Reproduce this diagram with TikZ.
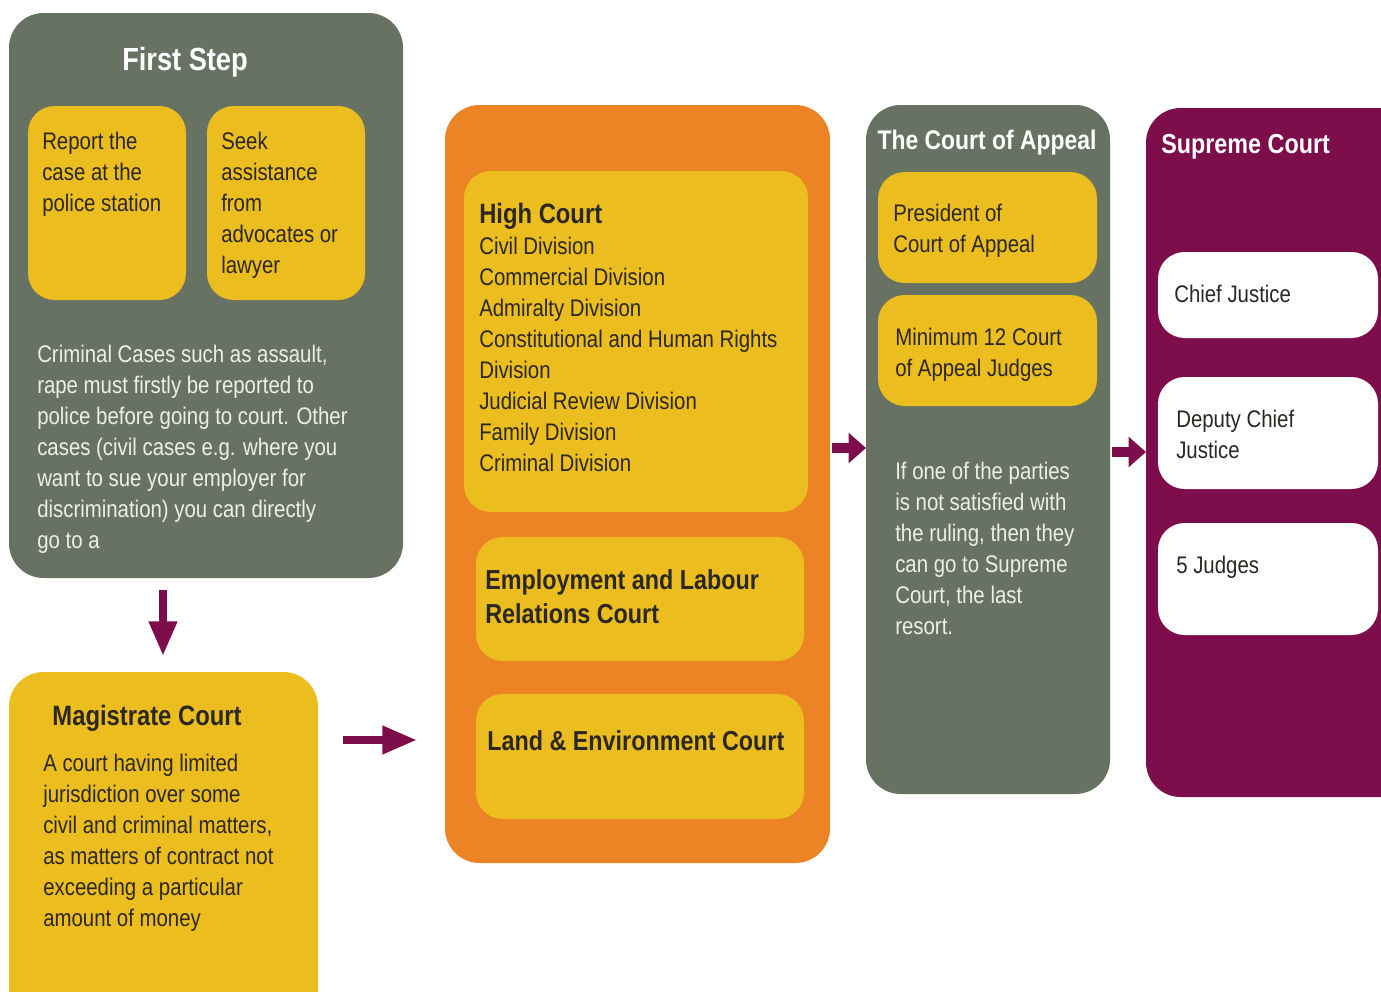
\documentclass[tikz,border=0pt]{standalone}
\usepackage{fontspec}
\setmainfont{Liberation Sans}[FakeStretch=0.85]
\usetikzlibrary{fit,arrows.meta}
\definecolor{cgray}{HTML}{677263}
\definecolor{cyellow}{HTML}{EBBD1E}
\definecolor{corange}{HTML}{EC8324}
\definecolor{cpurple}{HTML}{7D0E4B}
\definecolor{cdark}{HTML}{2B2823}
\definecolor{clight}{HTML}{EEEEE8}
\tikzset{
  panel/.style={inner sep=0pt, rounded corners=26pt, fill=#1},
  card/.style={inner sep=0pt, rounded corners=20pt, fill=#1},
  body/.style={anchor=north west, inner sep=0pt, align=left, text=cdark,
    font=\fontsize{18}{23.25}\selectfont},
  lightbody/.style={body, text=clight},
  title/.style={inner sep=0pt, font=\bfseries\fontsize{21}{25.5}\selectfont, text=cdark},
  whitetitle/.style={title, text=white},
  bigarr/.style={draw=cpurple, line width=6pt, -{Triangle[length=26pt,width=20pt]}},
  smallarr/.style={draw=cpurple, line width=7pt, -{Triangle[length=13pt,width=22pt]}},
}
\begin{document}
\begin{tikzpicture}[x=0.75pt,y=-0.75pt]
\clip (0,0) rectangle (1381,992);
\fill[white] (0,0) rectangle (1381,992);
% panels
\node[panel=cgray, fit={(9,13) (403,578)}] (fs) {};
\node[card=cyellow, fit={(28,106) (186,300)}] (rep) {};
\node[card=cyellow, fit={(207,106) (365,300)}] (seek) {};
\node[panel=cyellow, fit={(9,672) (318,1040)}] (mag) {};
\node[panel=corange, fit={(445,105) (830,863)}] (or) {};
\node[card=cyellow, fit={(464,171) (808,512)}] (hc) {};
\node[card=cyellow, fit={(476,537) (804,661)}] (el) {};
\node[card=cyellow, fit={(476,694) (804,819)}] (le) {};
\node[panel=cgray, fit={(866,105) (1110,794)}] (ca) {};
\node[card=cyellow, fit={(878,172) (1097,283)}] (pr) {};
\node[card=cyellow, fit={(878,295) (1097,406)}] (mi) {};
\node[panel=cpurple, fit={(1146,108) (1420,797)}] (sc) {};
\node[card=white, fit={(1158,252) (1378,338)}] (cj) {};
\node[card=white, fit={(1158,377) (1378,489)}] (dj) {};
\node[card=white, fit={(1158,523) (1378,635)}] (fj) {};
% texts
\node[whitetitle, anchor=base, font=\bfseries\fontsize{24}{28}\selectfont] (fst) at (185,70) {First Step};
\node[body] (rept) at (42,127.3) {\strut Report the\\case at the\\police station};
\node[body] (seekt) at (221,127.3) {\strut Seek\\assistance\\from\\advocates or\\lawyer};
\node[lightbody] (crim) at (37,340.3) {\strut Criminal Cases such as assault,\\rape must firstly be reported to\\police before going to court. Other\\cases (civil cases e.g. where you\\want to sue your employer for\\discrimination) you can directly\\go to a};
\node[title, anchor=base] (magt) at (147,725) {Magistrate Court};
\node[body] (magb) at (43,749.3) {\strut A court having limited\\jurisdiction over some\\civil and criminal matters,\\as matters of contract not\\exceeding a particular\\amount of money};
\node[title, anchor=base west] (hct) at (479,223) {High Court};
\node[body] (hcb) at (479,232.3) {\strut Civil Division\\Commercial Division\\Admiralty Division\\Constitutional and Human Rights\\Division\\Judicial Review Division\\Family Division\\Criminal Division};
\node[title, anchor=base west, font=\bfseries\fontsize{20.6}{25}\selectfont] (elt) at (485,589) {Employment and Labour};
\node[title, anchor=base west, font=\bfseries\fontsize{20.6}{25}\selectfont] (elt2) at (485,623) {Relations Court};
\node[title, anchor=base west, font=\bfseries\fontsize{20.6}{25}\selectfont] (let) at (487,750) {Land \& Environment Court};
\node[whitetitle, anchor=base, font=\bfseries\fontsize{20.2}{24}\selectfont] (cat) at (987,149) {The Court of Appeal};
\node[body] (prt) at (893,199.3) {\strut President of\\Court of Appeal};
\node[body] (mit) at (895,323.3) {\strut Minimum 12 Court\\of Appeal Judges};
\node[lightbody] (ift) at (895,457.3) {\strut If one of the parties\\is not satisfied with\\the ruling, then they\\can go to Supreme\\Court, the last\\resort.};
\node[whitetitle, anchor=base west, font=\bfseries\fontsize{20.6}{24}\selectfont] (sct) at (1161,153) {Supreme Court};
\node[body] (cjt) at (1174,280.3) {\strut Chief Justice};
\node[body] (djt) at (1176,405.3) {\strut Deputy Chief\\Justice};
\node[body] (fjt) at (1176,551.3) {\strut 5 Judges};
% arrows
\coordinate (a1s) at (163,590);
\coordinate (a1e) at (163,656);
\coordinate (a2s) at (343,740);
\coordinate (a2e) at (417,740);
\coordinate (a3s) at (832,448);
\coordinate (a3e) at (866,448);
\coordinate (a4s) at (1112,452);
\coordinate (a4e) at (1146,452);
\draw[bigarr] (a1s) -- (a1e);
\draw[bigarr] (a2s) -- (a2e);
\draw[smallarr] (a3s) -- (a3e);
\draw[smallarr] (a4s) -- (a4e);
\end{tikzpicture}
\end{document}
